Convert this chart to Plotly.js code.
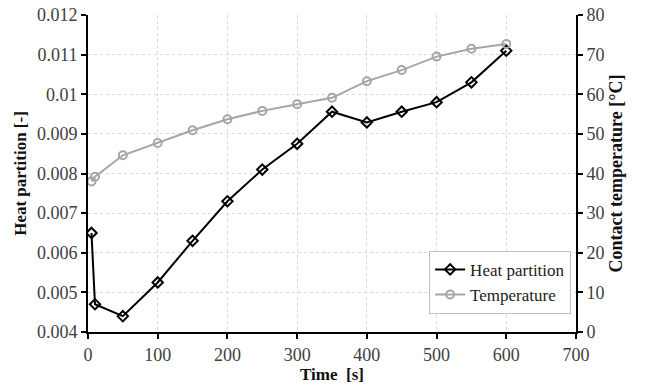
<!DOCTYPE html>
<html>
<head>
<meta charset="utf-8">
<script src="https://cdn.plot.ly/plotly-3.0.1.min.js"></script>
<style>html,body{margin:0;padding:0;background:#fff;}#chart{width:645px;height:385px;}</style>
</head>
<body>
<div id="chart"></div>
<script>
const time = [5, 10, 50, 100, 150, 200, 250, 300, 350, 400, 450, 500, 550, 600];
const heatPartition = [0.0065, 0.0047, 0.0044, 0.00525, 0.0063, 0.0073, 0.0081, 0.00875, 0.00956, 0.00929, 0.00956, 0.0098, 0.0103, 0.0111];
const temperature = [38, 39.2, 44.6, 47.7, 50.9, 53.7, 55.8, 57.5, 59.1, 63.3, 66.1, 69.5, 71.5, 72.7];

const serif = '"Liberation Serif", "Times New Roman", serif';

const traces = [
  {
    x: time, y: heatPartition, name: 'Heat partition', type: 'scatter', mode: 'lines+markers',
    line: {color: '#000000', width: 2},
    marker: {symbol: 'diamond-open', size: 8, color: '#000000', line: {width: 2, color: '#000000'}},
    yaxis: 'y'
  },
  {
    x: time, y: temperature, name: 'Temperature', type: 'scatter', mode: 'lines+markers',
    line: {color: '#a6a6a6', width: 2},
    marker: {symbol: 'circle-open', size: 8, color: '#a6a6a6', line: {width: 2, color: '#a6a6a6'}},
    yaxis: 'y2'
  }
];

const layout = {
  width: 645, height: 385,
  margin: {l: 88, r: 69, t: 15, b: 53},
  paper_bgcolor: '#ffffff', plot_bgcolor: '#ffffff',
  font: {family: serif, size: 18, color: '#404040'},
  showlegend: true,
  legend: {
    x: 0.699, y: 0.256, xanchor: 'left', yanchor: 'top',
    bordercolor: '#bfbfbf', borderwidth: 1, bgcolor: '#ffffff',
    font: {family: serif, size: 17, color: '#222222'},
    itemwidth: 30, tracegroupgap: 0
  },
  xaxis: {
    range: [0, 700], dtick: 100, tick0: 0,
    showline: true, linecolor: '#000000', linewidth: 2,
    ticks: 'outside', ticklen: 5, tickwidth: 2, tickcolor: '#000000',
    showgrid: true, gridcolor: '#d9d9d9', griddash: 'dot', gridwidth: 1,
    zeroline: false,
    tickfont: {family: serif, size: 18, color: '#404040'},
    title: {text: '<b>Time  [s]</b>', font: {family: serif, size: 17, color: '#111111'}, standoff: 1}
  },
  yaxis: {
    range: [0.004, 0.012], dtick: 0.001, tick0: 0.004,
    showline: true, linecolor: '#000000', linewidth: 2,
    ticks: 'outside', ticklen: 5, tickwidth: 2, tickcolor: '#000000',
    showgrid: true, gridcolor: '#d9d9d9', griddash: 'dot', gridwidth: 1,
    zeroline: false,
    tickformat: '.3~f',
    tickfont: {family: serif, size: 18, color: '#404040'},
    title: {text: '<b>Heat partition [-]</b>', font: {family: serif, size: 17, color: '#111111'}, standoff: 6}
  },
  yaxis2: {
    range: [0, 80], dtick: 10, tick0: 0,
    overlaying: 'y', side: 'right',
    showline: true, linecolor: '#000000', linewidth: 2,
    ticks: 'outside', ticklen: 5, tickwidth: 2, tickcolor: '#000000',
    showgrid: false, zeroline: false,
    tickfont: {family: serif, size: 18, color: '#404040'},
    title: {text: '<b>Contact temperature [°C]</b>', font: {family: serif, size: 18, color: '#111111'}, standoff: 6}
  }
};

Plotly.newPlot('chart', traces, layout, {displayModeBar: false, staticPlot: true});
</script>
</body>
</html>
